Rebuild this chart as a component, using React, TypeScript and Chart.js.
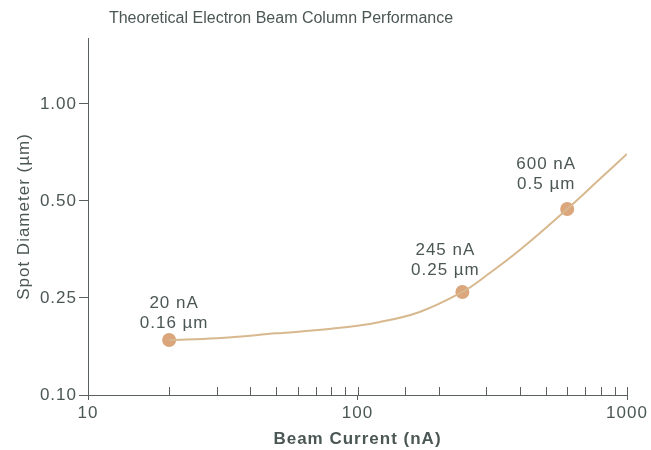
import React, { useEffect, useRef } from 'react';
import { Chart, registerables } from 'chart.js';

Chart.register(...registerables);

// ---- data ----
const curveCurrent = [20, 30, 50, 80, 120, 170, 245, 300, 400, 600, 800, 1000];
const curveDiameter = [0.168, 0.171, 0.179, 0.187, 0.199, 0.219, 0.261, 0.293, 0.352, 0.472, 0.589, 0.7];
const markerCurrent = [20, 245, 600];
const markerDiameter = [0.168, 0.261, 0.472];
const markerLabelTop = ['20 nA', '245 nA', '600 nA'];
const markerLabelBottom = ['0.16 \u00b5m', '0.25 \u00b5m', '0.5 \u00b5m'];
const yTickValues = [0.1, 0.25, 0.5, 1.0];
const yTickLabels = ['0.10', '0.25', '0.50', '1.00'];
const xTickLabels = [10, 100, 1000];
const titleText = 'Theoretical Electron Beam Column Performance';
const xTitle = 'Beam Current (nA)';
const yTitle = 'Spot Diameter (\u00b5m)';

// ---- styles ----
const TEXT = '#4b5755';
const AXIS = '#5a605f';
const CURVE = '#d8b88e';
const MARK = '#dba67b';
const FONT = "'Liberation Sans', Arial, Helvetica, sans-serif";
const labelOffsets = [
  { dx: 5, dy: -37 },
  { dx: -17, dy: -42 },
  { dx: -21, dy: -45 },
];

// the y axis of the original spaces its tick values evenly; map values
// piecewise-logarithmically between ticks
function toIdx(v: number): number {
  const t = yTickValues;
  for (let i = 0; i < t.length - 1; i++) {
    if (v <= t[i + 1] || i === t.length - 2) {
      return i + Math.log(v / t[i]) / Math.log(t[i + 1] / t[i]);
    }
  }
  return 0;
}

function isDecade(v: number): boolean {
  return xTickLabels.some((d) => Math.abs(d - v) < 1e-6);
}

export default function App() {
  const ref = useRef<HTMLCanvasElement>(null);

  useEffect(() => {
    const canvas = ref.current!;
    const spacing = {
      id: 'spacing',
      beforeUpdate(chart: any) {
        chart.ctx.letterSpacing = '1px';
      },
      beforeDraw(chart: any) {
        chart.ctx.letterSpacing = '1px';
      },
    };
    const deco = {
      id: 'deco',
      afterDraw(chart: any) {
        const ctx = chart.ctx as CanvasRenderingContext2D;
        const xs = chart.scales.x;
        const ys = chart.scales.y;
        const bottom = chart.chartArea.bottom;
        ctx.save();
        ctx.strokeStyle = AXIS;
        ctx.lineWidth = 1;
        xs.ticks.forEach((t: any) => {
          const px = Math.round(xs.getPixelForValue(t.value)) + 0.5;
          ctx.beginPath();
          ctx.moveTo(px, bottom);
          ctx.lineTo(px, bottom - 8);
          ctx.stroke();
        });
        (ctx as any).letterSpacing = '0px';
        ctx.fillStyle = TEXT;
        ctx.textAlign = 'center';
        ctx.textBaseline = 'middle';
        ctx.font = `16px ${FONT}`;
        ctx.fillText(titleText, 281, 19);
        (ctx as any).letterSpacing = '1px';
        ctx.font = `17px ${FONT}`;
        markerCurrent.forEach((c, i) => {
          const px = xs.getPixelForValue(c);
          const py = ys.getPixelForValue(toIdx(markerDiameter[i]));
          const o = labelOffsets[i];
          ctx.fillText(markerLabelTop[i], px + o.dx, py + o.dy);
          ctx.fillText(markerLabelBottom[i], px + o.dx, py + o.dy + 20);
        });
        ctx.restore();
      },
    };

    const chart = new Chart(canvas, {
      type: 'line',
      data: {
        datasets: [
          {
            data: curveCurrent.map((c, i) => ({ x: c, y: toIdx(curveDiameter[i]) })),
            borderColor: CURVE,
            borderWidth: 2,
            pointRadius: 0,
            tension: 0.4,
            fill: false,
          },
          {
            data: markerCurrent.map((c, i) => ({ x: c, y: toIdx(markerDiameter[i]) })),
            showLine: false,
            pointRadius: 7,
            pointBackgroundColor: MARK,
            pointBorderColor: MARK,
            pointBorderWidth: 0,
            borderColor: MARK,
          },
        ],
      },
      options: {
        responsive: false,
        animation: false,
        layout: { padding: { left: 0, right: 24, top: 38, bottom: 0 }, autoPadding: false },
        plugins: {
          legend: { display: false },
          tooltip: { enabled: false },
          title: { display: false },
        },
        scales: {
          x: {
            type: 'logarithmic',
            min: 10,
            max: 1000,
            position: 'bottom',
            afterFit(s: any) {
              s.height = 55;
              s.paddingLeft = 0;
              s.paddingRight = 0;
            },
            border: { display: true, color: AXIS, width: 1 },
            grid: {
              drawOnChartArea: false,
              drawTicks: true,
              tickLength: 5,
              color: (c: any) => (c.tick && isDecade(c.tick.value) ? AXIS : 'rgba(0,0,0,0)'),
            },
            ticks: {
              autoSkip: false,
              maxRotation: 0,
              color: TEXT,
              padding: 3,
              font: { family: FONT, size: 17 },
              callback: (v: any) => (isDecade(Number(v)) ? String(Math.round(Number(v))) : ''),
            },
            title: {
              display: true,
              text: xTitle,
              color: TEXT,
              font: { family: FONT, size: 17, weight: 'bold' },
              padding: { top: 0, bottom: 0 },
            },
          },
          y: {
            type: 'linear',
            min: 0,
            max: 3.68,
            afterFit(s: any) {
              s.width = 88;
              s.paddingTop = 0;
              s.paddingBottom = 0;
            },
            afterBuildTicks(s: any) {
              s.ticks = yTickValues.map((v) => ({ value: toIdx(v) }));
            },
            border: { display: true, color: AXIS, width: 1 },
            grid: { drawOnChartArea: false, drawTicks: true, tickLength: 9, color: AXIS },
            ticks: {
              color: TEXT,
              padding: 2,
              font: { family: FONT, size: 17 },
              callback: (_v: any, i: number) => yTickLabels[i],
            },
            title: {
              display: true,
              text: yTitle,
              color: TEXT,
              font: { family: FONT, size: 17 },
              padding: { top: 14, bottom: 0 },
            },
          },
        },
      } as any,
      plugins: [spacing, deco],
    });
    return () => chart.destroy();
  }, []);

  return (
    <div style={{ position: 'fixed', left: 0, top: 0, width: 651, height: 450, background: '#ffffff' }}>
      <canvas ref={ref} width={651} height={450} style={{ display: 'block', width: 651, height: 450 }} />
    </div>
  );
}
